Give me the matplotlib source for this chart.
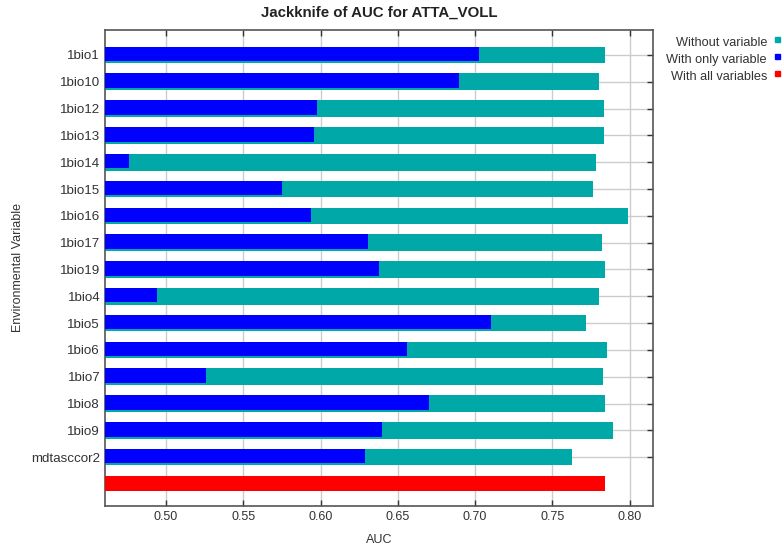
import matplotlib
matplotlib.use("Agg")
import matplotlib.pyplot as plt
from matplotlib.patches import Rectangle

plt.rcParams['font.family'] = ['Liberation Sans', 'DejaVu Sans']

categories = ["1bio1", "1bio10", "1bio12", "1bio13", "1bio14", "1bio15", "1bio16",
              "1bio17", "1bio19", "1bio4", "1bio5", "1bio6", "1bio7", "1bio8",
              "1bio9", "mdtasccor2"]
without_variable = [0.7841, 0.7804, 0.7832, 0.7832, 0.7785, 0.7760, 0.7986,
                    0.7820, 0.7843, 0.7804, 0.7718, 0.7855, 0.7827, 0.7843,
                    0.7892, 0.7624]
with_only_variable = [0.7023, 0.6893, 0.5977, 0.5959, 0.4762, 0.5749, 0.5940,
                      0.6304, 0.6375, 0.4940, 0.7101, 0.6558, 0.5261, 0.6704,
                      0.6398, 0.6290]
with_all_variables = 0.7841
xticks = [0.50, 0.55, 0.60, 0.65, 0.70, 0.75, 0.80]

TEAL = "#00A8A8"
BLUE = "#0000FF"
RED = "#FF0000"
TXT = "#333333"

W, H = 784, 548
fig = plt.figure(figsize=(W / 100, H / 100), dpi=100)
ax = fig.add_axes([105 / W, 1 - 505.7 / H, (653 - 105) / W, (505.7 - 30) / H])

xmin = 0.4605
n = len(categories)
ypos = list(range(n))
bh = 0.62
ax.barh(ypos, [v - xmin for v in without_variable], left=xmin, height=bh,
        color=TEAL, zorder=2)
ax.barh([y - 0.04 for y in ypos], [v - xmin for v in with_only_variable], left=xmin,
        height=bh - 0.08, color=BLUE, zorder=3)
ax.barh([n], [with_all_variables - xmin], left=xmin, height=bh - 0.06, color=RED, zorder=3)

ax.set_xlim(xmin, 0.8151)
ax.set_ylim(n + 0.81, -0.93)
ax.set_yticks(ypos)
ax.set_yticklabels(categories)
ax.set_xticks(xticks)
ax.set_xticklabels([f"{t:.2f}" for t in xticks])
ax.grid(True, color="#cccccc", linewidth=1.0, zorder=0)
ax.set_axisbelow(True)
ax.tick_params(axis='both', direction='in', top=True, right=True, length=4,
               labelsize=9, colors=TXT, labelcolor=TXT, width=1)
ax.tick_params(axis='y', labelsize=9.6)
for s in ax.spines.values():
    s.set_color("#555555")
    s.set_linewidth(1.2)

ax.set_xlabel("AUC", fontsize=9, color=TXT)
ax.set_ylabel("Environmental Variable", fontsize=9, color=TXT)
ax.yaxis.set_label_coords((18 - 105) / (653 - 105), 0.5)
ax.xaxis.set_label_coords(0.5, -(540 - 505.7) / (505.7 - 30))
ax.xaxis.label.set_verticalalignment('center')
ax.yaxis.label.set_verticalalignment('center')

fig.text(379 / W, 1 - 13 / H, "Jackknife of AUC for ATTA_VOLL", ha='center', va='center',
         fontsize=10.8, fontweight='bold', color="#222222")

legend_items = [("Without variable", TEAL), ("With only variable", BLUE),
                ("With all variables", RED)]
for i, (lab, col) in enumerate(legend_items):
    yc = 42.7 + i * 17.3
    fig.text(767 / W, 1 - yc / H, lab, ha='right', va='center', fontsize=9.2, color=TXT)
    sz = 5
    fig.add_artist(Rectangle((775 / W, 1 - (yc - 1) / H), sz / W, sz / H,
                             transform=fig.transFigure, color=col))

fig.savefig("out.png", dpi=100)
